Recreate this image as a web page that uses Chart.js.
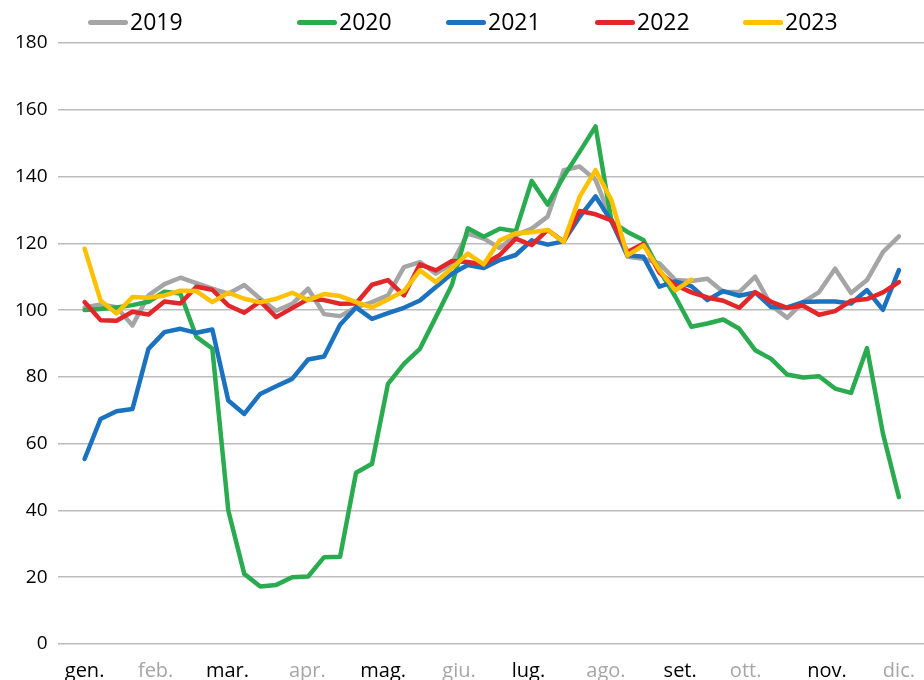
<!DOCTYPE html>
<html>
<head>
<meta charset="utf-8">
<script src="https://cdn.jsdelivr.net/npm/chart.js@4/dist/chart.umd.min.js"></script>
<style>
  html, body { margin: 0; padding: 0; background: #ffffff; }
  #wrap { width: 924px; height: 680px; position: relative; }
</style>
</head>
<body>
<div id="wrap"><canvas id="c"></canvas></div>
<script>
// ---- data ----
const WEEKS = [1,2,3,4,5,6,7,8,9,10,11,12,13,14,15,16,17,18,19,20,21,22,23,24,25,26,
               27,28,29,30,31,32,33,34,35,36,37,38,39,40,41,42,43,44,45,46,47,48,49,50,51,52];

const MONTHS = ['gen.','feb.','mar.','apr.','mag.','giu.','lug.','ago.','set.','ott.','nov.','dic.'];
const MONTH_TICK_WEEK = [1, 5.45, 9.95, 14.95, 19.7, 24.45, 28.8, 33.65, 38.3, 42.4, 47.5, 52];

const Y2019 = [100.8,101.7,100.9,95.4,104.4,107.8,109.7,108.1,106.4,104.9,107.5,103.4,99.8,101.9,106.4,98.8,98.2,
               100.8,102.4,104.4,112.9,114.4,110.9,113.9,122.9,121.4,118.6,122.4,124.4,128,141.9,143,139,127,
               116,115.4,114,109,108.7,109.4,105.4,105.4,110,101.4,97.7,102.4,105.4,112.4,105.1,109,117.4,122.1];

const Y2020 = [100,100.3,100.8,101.5,102.5,105.5,105,92,88.5,40,21,17.2,17.7,20,20.2,26,26.1,
               51.3,54,77.9,83.9,88.4,97.9,107.5,124.5,122,124.4,123.6,138.7,131.6,140,147.4,155,126.5,
               123.4,121,112,104,95,96,97.2,94.4,88,85.4,80.7,79.8,80.2,76.5,75.2,88.6,63,44];

const Y2021 = [55.4,67.4,69.7,70.4,88.4,93.4,94.4,93.2,94.2,72.9,68.9,74.9,77.2,79.4,85.2,86.1,95.6,
               100.8,97.4,99.1,100.7,102.9,106.9,110.9,113.5,112.6,115,116.5,120.9,119.6,120.6,127.9,134.1,126.5,
               116.4,116,107,108.6,107.2,103,105.7,104.3,105.3,100.9,100.8,102.4,102.6,102.6,102,106,100.1,112];

const Y2022 = [102.4,97,96.8,99.5,98.7,102.6,102,107,106.1,101.4,99.2,102.6,97.9,100.6,103.3,103,101.9,
               102,107.6,109,104.4,113.7,111.9,114.7,114.4,113.7,116.5,121.4,119.5,124,120.5,129.7,128.7,126.9,
               117.4,119.9,111.2,107.5,105.3,103.8,102.8,100.7,105.4,102.5,100.7,101.3,98.6,99.7,102.8,103.3,105.3,108.4];

const Y2023 = [118.4,102.9,99,103.9,103.7,104.4,105.8,105.7,102.4,105.2,103.4,102.3,103.4,105.2,103,104.8,104.2,
               102.4,100.8,103.2,105.7,111.9,108.4,112.6,116.9,113.7,120.9,123,123.3,124,120.4,133.9,141.9,132.9,
               116.4,119.4,112,105.9,109.1];

const SERIES_NAMES = ['2019','2020','2021','2022','2023'];

// ---- styles ----
const COLORS = ['#A5A5A5','#2BAB4F','#1B72BE','#E3262A','#FFC000'];
const LEGEND_X = [88, 297, 446, 595, 743];

function toPoints(vals) { return vals.map((v, i) => ({ x: WEEKS[i], y: v })); }

const seriesVals = [Y2019, Y2020, Y2021, Y2022, Y2023];
const datasets = seriesVals.map((vals, k) => ({
  label: SERIES_NAMES[k],
  data: toPoints(vals),
  borderColor: COLORS[k],
  backgroundColor: COLORS[k],
  borderWidth: 4.5,
  pointRadius: 0,
  tension: 0,
  borderJoinStyle: 'round',
  borderCapStyle: 'round',
  order: 5 - k
}));

const legendPlugin = {
  id: 'yearLegend',
  afterDraw(chart) {
    const ctx = chart.ctx;
    ctx.save();
    ctx.font = '23px "Open Sans", sans-serif';
    ctx.textBaseline = 'middle';
    ctx.textAlign = 'left';
    chart.data.datasets.forEach((ds, i) => {
      const x = LEGEND_X[i];
      ctx.strokeStyle = ds.borderColor;
      ctx.lineWidth = 5;
      ctx.lineCap = 'round';
      ctx.beginPath();
      ctx.moveTo(x + 2.5, 22.5);
      ctx.lineTo(x + 37.5, 22.5);
      ctx.stroke();
      ctx.fillStyle = '#000000';
      ctx.fillText(ds.label, x + 42, 23);
    });
    ctx.restore();
  }
};

Chart.defaults.font.family = '"Open Sans", sans-serif';

new Chart(document.getElementById('c'), {
  type: 'line',
  data: { datasets },
  plugins: [legendPlugin],
  options: {
    responsive: true,
    maintainAspectRatio: false,
    animation: false,
    layout: { padding: { top: 43, left: 5, right: 0, bottom: -10 } },
    plugins: { legend: { display: false }, tooltip: { enabled: false } },
    scales: {
      x: {
        type: 'linear',
        min: 1 - 1.69,
        max: 52 + 1.57,
        grid: { display: false },
        border: { display: false },
        afterBuildTicks: (scale) => { scale.ticks = MONTH_TICK_WEEK.map(v => ({ value: v })); },
        ticks: {
          autoSkip: false,
          maxRotation: 0,
          padding: 7,
          font: { size: 20 },
          color: (c) => (c.index % 2 ? '#A6A6A6' : '#000000'),
          callback: (v, i) => MONTHS[i]
        }
      },
      y: {
        min: 0,
        max: 180,
        ticks: { stepSize: 20, padding: 10, font: { size: 19 }, color: '#000000' },
        grid: { color: '#BCBCBC', lineWidth: 1.5, drawTicks: false },
        border: { display: false }
      }
    }
  }
});
</script>
</body>
</html>
